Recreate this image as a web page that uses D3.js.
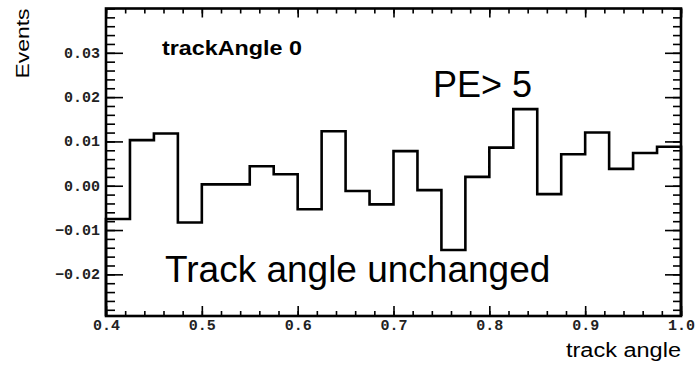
<!DOCTYPE html>
<html>
<head>
<meta charset="utf-8">
<script src="https://cdn.jsdelivr.net/npm/d3@7"></script>
<style>
  html, body { margin: 0; padding: 0; background: #fff; }
  svg { display: block; }
</style>
</head>
<body>
<svg id="chart" width="696" height="365"></svg>
<script>
// Histogram of track angle, 24 bins from 0.4 to 1.0
const binLow = 0.4;
const binHigh = 1.0;
const binCount = 24;
const binValues = [
  -0.0075, 0.0103, 0.0118, -0.0083, 0.0003, 0.0003, 0.0044, 0.0026,
  -0.0053, 0.0123, -0.0012, -0.0042, 0.0078, -0.0010, -0.0145, 0.0020,
  0.0086, 0.0173, -0.0019, 0.0071, 0.0120, 0.0038, 0.0074, 0.0088
];
const yRange = [-0.0294, 0.04];

const xTickValues = [0.4, 0.5, 0.6, 0.7, 0.8, 0.9, 1.0];
const xTickLabels = ["0.4", "0.5", "0.6", "0.7", "0.8", "0.9", "1.0"];
const yTickValues = [-0.02, -0.01, 0.0, 0.01, 0.02, 0.03];
const yTickLabels = ["\u22120.02", "\u22120.01", "0.00", "0.01", "0.02", "0.03"];

const titleText = "trackAngle 0";
const xTitle = "track angle";
const yTitle = "Events";
const noteTop = "PE> 5";
const noteBottom = "Track angle unchanged";

const frame = { left: 106, right: 681, top: 8.5, bottom: 316 };

const svg = d3.select("#chart");
const x = d3.scaleLinear().domain([binLow, binHigh]).range([frame.left, frame.right]);
const y = d3.scaleLinear().domain(yRange).range([frame.bottom, frame.top]);

const binWidth = (binHigh - binLow) / binCount;
const xMinor = d3.range(0, 31).map(i => +(binLow + i * 0.02).toFixed(4));
const yMinor = d3.range(-14, 21).map(i => +(i * 0.002).toFixed(4));

const tickFont = "'Liberation Mono', 'Courier New', monospace";
const textFont = "'Liberation Sans', Arial, Helvetica, sans-serif";

function styleAxis(g) {
  g.select(".domain").remove();
  g.selectAll(".tick line").attr("stroke", "#000").attr("stroke-width", 1.6);
}

// bottom axis: minor + major ticks pointing inward, labelled
svg.append("g").attr("transform", `translate(0,${frame.bottom})`)
  .call(d3.axisBottom(x).tickValues(xMinor).tickSize(-5).tickFormat(""))
  .call(styleAxis);
const xAxisG = svg.append("g").attr("transform", `translate(0,${frame.bottom})`)
  .call(d3.axisBottom(x).tickValues(xTickValues).tickSize(-10).tickPadding(0)
    .tickFormat((d, i) => xTickLabels[i]))
  .call(styleAxis);
xAxisG.selectAll(".tick text")
  .attr("y", 14).attr("dy", 0)
  .attr("font-family", tickFont).attr("font-size", 15).attr("font-weight", "bold")
  .attr("fill", "#222");

// top axis: ticks only
svg.append("g").attr("transform", `translate(0,${frame.top})`)
  .call(d3.axisTop(x).tickValues(xMinor).tickSize(-5).tickFormat(""))
  .call(styleAxis);
svg.append("g").attr("transform", `translate(0,${frame.top})`)
  .call(d3.axisTop(x).tickValues(xTickValues).tickSize(-9).tickFormat(""))
  .call(styleAxis);

// left axis: minor + major ticks, labelled
svg.append("g").attr("transform", `translate(${frame.left},0)`)
  .call(d3.axisLeft(y).tickValues(yMinor).tickSize(-9).tickFormat(""))
  .call(styleAxis);
const yAxisG = svg.append("g").attr("transform", `translate(${frame.left},0)`)
  .call(d3.axisLeft(y).tickValues(yTickValues).tickSize(-17).tickPadding(0)
    .tickFormat((d, i) => yTickLabels[i]))
  .call(styleAxis);
yAxisG.selectAll(".tick text")
  .attr("x", -6).attr("dy", "0.3em")
  .attr("font-family", tickFont).attr("font-size", 15).attr("font-weight", "bold")
  .attr("fill", "#222");

// right axis: ticks only
svg.append("g").attr("transform", `translate(${frame.right},0)`)
  .call(d3.axisRight(y).tickValues(yMinor).tickSize(-8).tickFormat(""))
  .call(styleAxis);
svg.append("g").attr("transform", `translate(${frame.right},0)`)
  .call(d3.axisRight(y).tickValues(yTickValues).tickSize(-16).tickFormat(""))
  .call(styleAxis);

// frame
svg.append("rect")
  .attr("x", frame.left).attr("y", frame.top)
  .attr("width", frame.right - frame.left).attr("height", frame.bottom - frame.top)
  .attr("fill", "none").attr("stroke", "#000").attr("stroke-width", 2.6);

// histogram outline, starting and ending on the frame floor
const pts = [[binLow, yRange[0]]];
binValues.forEach((v, i) => {
  const lo = binLow + i * binWidth;
  pts.push([lo, v], [lo + binWidth, v]);
});
pts.push([binHigh, yRange[0]]);
const line = d3.line().x(d => x(d[0])).y(d => y(d[1]));
svg.append("path")
  .attr("d", line(pts))
  .attr("fill", "none").attr("stroke", "#000")
  .attr("stroke-width", 2.6).attr("stroke-linejoin", "miter");

// titles
svg.append("text")
  .attr("x", 162).attr("y", 55)
  .attr("font-family", textFont).attr("font-size", 21).attr("font-weight", "bold")
  .attr("textLength", 140).attr("lengthAdjust", "spacingAndGlyphs")
  .text(titleText);

svg.append("text")
  .attr("x", frame.right).attr("y", 356.5)
  .attr("text-anchor", "end")
  .attr("font-family", textFont).attr("font-size", 19.5)
  .attr("textLength", 115).attr("lengthAdjust", "spacingAndGlyphs")
  .text(xTitle);

svg.append("text")
  .attr("transform", `translate(28.5,${frame.top}) rotate(-90)`)
  .attr("text-anchor", "end")
  .attr("font-family", textFont).attr("font-size", 18.5)
  .attr("textLength", 70).attr("lengthAdjust", "spacingAndGlyphs")
  .text(yTitle);

// annotations
svg.append("text")
  .attr("x", 433).attr("y", 97)
  .attr("font-family", textFont).attr("font-size", 36)
  .text(noteTop);

svg.append("text")
  .attr("x", 165).attr("y", 281.5)
  .attr("font-family", textFont).attr("font-size", 37)
  .text(noteBottom);
</script>
</body>
</html>
